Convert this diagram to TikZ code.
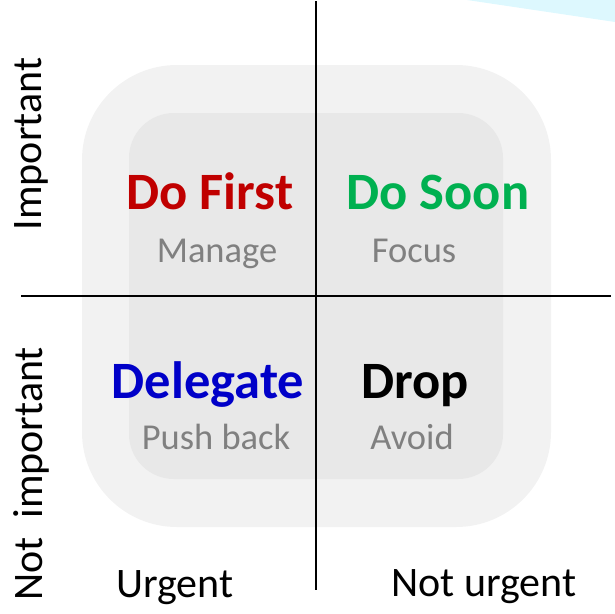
\documentclass[tikz,border=0pt]{standalone}
\usepackage{fontspec}
\setmainfont{Carlito}
\begin{document}
\begin{tikzpicture}[x=1pt,y=-1pt,
  title/.style={font=\fontsize{52.5}{52}\selectfont\bfseries, anchor=base, inner sep=0pt},
  sub/.style={font=\fontsize{36.5}{36}\selectfont, text=subgray, anchor=base, inner sep=0pt},
  axislabel/.style={font=\fontsize{42}{42}\selectfont, anchor=base, inner sep=0pt},
  axisline/.style={line width=2.2pt, black}]
\definecolor{subgray}{HTML}{808080}
\definecolor{outerbg}{HTML}{F2F2F2}
\definecolor{innerbg}{HTML}{E8E8E8}
\definecolor{skyband}{HTML}{DDF8FE}
\definecolor{firstred}{HTML}{C00000}
\definecolor{soongreen}{HTML}{00B050}
\definecolor{delblue}{HTML}{0000C8}
\useasboundingbox (0,0) rectangle (615,613);
% corner band
\fill[skyband] (467,0) -- (615,22) -- (615,0) -- cycle;
% nested rounded panels
\fill[outerbg, rounded corners=95pt] (82,65) rectangle (551,527);
\fill[innerbg, rounded corners=45pt] (129,113) rectangle (503,479);
% axes
\coordinate (vtop) at (316,1);
\coordinate (vbot) at (316,590);
\coordinate (hleft) at (21,296);
\coordinate (hright) at (611,296);
\draw[axisline] (vtop) -- (vbot);
\draw[axisline] (hleft) -- (hright);
% quadrant titles
\node[title, text=firstred] (dofirst) at (210,209) {Do First};
\node[sub] (manage) at (217,262) {Manage};
\node[title, text=soongreen] (dosoon) at (438,209) {Do Soon};
\node[sub] (focus) at (414,262) {Focus};
\node[title, text=delblue] (delegate) at (208,398) {Delegate};
\node[sub] (pushback) at (216,449) {Push back};
\node[title, text=black] (drop) at (415,398) {Drop};
\node[sub] (avoid) at (412,449) {Avoid};
% axis labels
\node[axislabel] (urgent) at (175,597) {Urgent};
\node[axislabel] (noturgent) at (484,596) {Not urgent};
\node[axislabel, rotate=90] (important) at (41,144) {Important};
\node[axislabel, rotate=90] (notimportant) at (42,474) {Not~~important};
\end{tikzpicture}
\end{document}
